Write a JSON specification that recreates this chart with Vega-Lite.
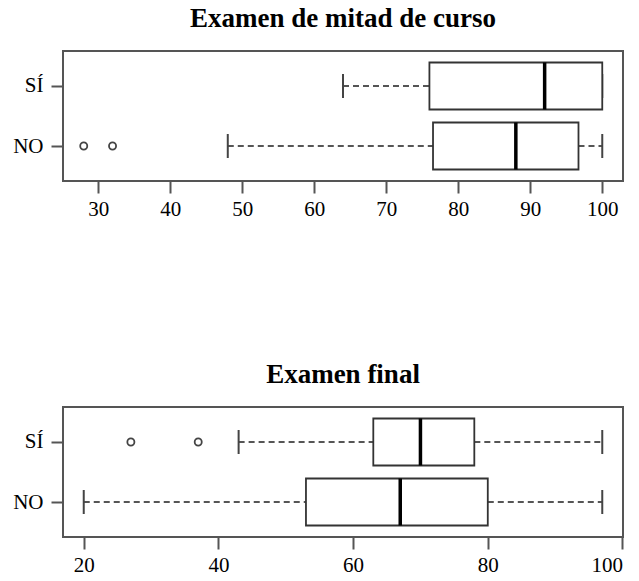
{
  "$schema": "https://vega.github.io/schema/vega-lite/v6.json",
  "padding": {"left": 11, "top": 4, "right": 10, "bottom": 5},
  "spacing": 140,
  "datasets": {
    "resumen": [
      {"examen": "mitad", "grupo": "SÍ", "inferior": 64, "q1": 76, "mediana": 92, "q3": 100, "superior": 100},
      {"examen": "mitad", "grupo": "NO", "inferior": 48, "q1": 76.5, "mediana": 88, "q3": 96.7, "superior": 100},
      {"examen": "final", "grupo": "SÍ", "inferior": 43, "q1": 63, "mediana": 70, "q3": 78, "superior": 97},
      {"examen": "final", "grupo": "NO", "inferior": 20, "q1": 53, "mediana": 67, "q3": 80, "superior": 97}
    ],
    "atipicos": [
      {"examen": "mitad", "grupo": "NO", "valor": 28},
      {"examen": "mitad", "grupo": "NO", "valor": 32},
      {"examen": "final", "grupo": "SÍ", "valor": 27},
      {"examen": "final", "grupo": "SÍ", "valor": 37}
    ]
  },
  "vconcat": [
    {
      "title": {"text": "Examen de mitad de curso"},
      "width": 560,
      "height": 130,
      "layer": [
        {
          "data": {"name": "resumen"},
          "transform": [{"filter": "datum.examen === 'mitad'"}],
          "mark": {"type": "rule", "strokeDash": [6, 4], "color": "#555", "strokeWidth": 2},
          "encoding": {
            "x": {"field": "inferior", "type": "quantitative", "scale": {"domain": [25.12, 102.88], "nice": false, "zero": false}, "axis": {"values": [30, 40, 50, 60, 70, 80, 90, 100], "title": null}},
            "x2": {"field": "q1"},
            "y": {"field": "grupo", "type": "nominal", "scale": {"type": "point", "padding": 0.583, "domain": ["SÍ", "NO"]}, "axis": {"title": null}}
          }
        },
        {
          "data": {"name": "resumen"},
          "transform": [{"filter": "datum.examen === 'mitad'"}],
          "mark": {"type": "rule", "strokeDash": [6, 4], "color": "#555", "strokeWidth": 2},
          "encoding": {
            "x": {"field": "q3", "type": "quantitative"},
            "x2": {"field": "superior"},
            "y": {"field": "grupo", "type": "nominal"}
          }
        },
        {
          "data": {"name": "resumen"},
          "transform": [{"filter": "datum.examen === 'mitad'"}],
          "mark": {"type": "tick", "color": "#444", "opacity": 1, "thickness": 2, "size": 24},
          "encoding": {
            "x": {"field": "inferior", "type": "quantitative"},
            "y": {"field": "grupo", "type": "nominal"}
          }
        },
        {
          "data": {"name": "resumen"},
          "transform": [{"filter": "datum.examen === 'mitad'"}],
          "mark": {"type": "tick", "color": "#444", "opacity": 1, "thickness": 2, "size": 24},
          "encoding": {
            "x": {"field": "superior", "type": "quantitative"},
            "y": {"field": "grupo", "type": "nominal"}
          }
        },
        {
          "data": {"name": "resumen"},
          "transform": [{"filter": "datum.examen === 'mitad'"}],
          "mark": {"type": "bar", "size": 47, "fill": "white", "stroke": "#333", "strokeWidth": 1.8, "opacity": 1},
          "encoding": {
            "x": {"field": "q1", "type": "quantitative"},
            "x2": {"field": "q3"},
            "y": {"field": "grupo", "type": "nominal"}
          }
        },
        {
          "data": {"name": "resumen"},
          "transform": [{"filter": "datum.examen === 'mitad'"}],
          "mark": {"type": "tick", "color": "black", "opacity": 1, "thickness": 3.5, "size": 47},
          "encoding": {
            "x": {"field": "mediana", "type": "quantitative"},
            "y": {"field": "grupo", "type": "nominal"}
          }
        },
        {
          "data": {"name": "atipicos"},
          "transform": [{"filter": "datum.examen === 'mitad'"}],
          "mark": {"type": "point", "shape": "circle", "filled": false, "size": 50, "stroke": "#444", "strokeWidth": 1.8, "opacity": 1},
          "encoding": {
            "x": {"field": "valor", "type": "quantitative"},
            "y": {"field": "grupo", "type": "nominal"}
          }
        }
      ]
    },
    {
      "title": {"text": "Examen final"},
      "width": 560,
      "height": 130,
      "layer": [
        {
          "data": {"name": "resumen"},
          "transform": [{"filter": "datum.examen === 'final'"}],
          "mark": {"type": "rule", "strokeDash": [6, 4], "color": "#555", "strokeWidth": 2},
          "encoding": {
            "x": {"field": "inferior", "type": "quantitative", "scale": {"domain": [16.92, 100.08], "nice": false, "zero": false}, "axis": {"values": [20, 40, 60, 80, 100], "title": null}},
            "x2": {"field": "q1"},
            "y": {"field": "grupo", "type": "nominal", "scale": {"type": "point", "padding": 0.583, "domain": ["SÍ", "NO"]}, "axis": {"title": null}}
          }
        },
        {
          "data": {"name": "resumen"},
          "transform": [{"filter": "datum.examen === 'final'"}],
          "mark": {"type": "rule", "strokeDash": [6, 4], "color": "#555", "strokeWidth": 2},
          "encoding": {
            "x": {"field": "q3", "type": "quantitative"},
            "x2": {"field": "superior"},
            "y": {"field": "grupo", "type": "nominal"}
          }
        },
        {
          "data": {"name": "resumen"},
          "transform": [{"filter": "datum.examen === 'final'"}],
          "mark": {"type": "tick", "color": "#444", "opacity": 1, "thickness": 2, "size": 24},
          "encoding": {
            "x": {"field": "inferior", "type": "quantitative"},
            "y": {"field": "grupo", "type": "nominal"}
          }
        },
        {
          "data": {"name": "resumen"},
          "transform": [{"filter": "datum.examen === 'final'"}],
          "mark": {"type": "tick", "color": "#444", "opacity": 1, "thickness": 2, "size": 24},
          "encoding": {
            "x": {"field": "superior", "type": "quantitative"},
            "y": {"field": "grupo", "type": "nominal"}
          }
        },
        {
          "data": {"name": "resumen"},
          "transform": [{"filter": "datum.examen === 'final'"}],
          "mark": {"type": "bar", "size": 47, "fill": "white", "stroke": "#333", "strokeWidth": 1.8, "opacity": 1},
          "encoding": {
            "x": {"field": "q1", "type": "quantitative"},
            "x2": {"field": "q3"},
            "y": {"field": "grupo", "type": "nominal"}
          }
        },
        {
          "data": {"name": "resumen"},
          "transform": [{"filter": "datum.examen === 'final'"}],
          "mark": {"type": "tick", "color": "black", "opacity": 1, "thickness": 3.5, "size": 47},
          "encoding": {
            "x": {"field": "mediana", "type": "quantitative"},
            "y": {"field": "grupo", "type": "nominal"}
          }
        },
        {
          "data": {"name": "atipicos"},
          "transform": [{"filter": "datum.examen === 'final'"}],
          "mark": {"type": "point", "shape": "circle", "filled": false, "size": 50, "stroke": "#444", "strokeWidth": 1.8, "opacity": 1},
          "encoding": {
            "x": {"field": "valor", "type": "quantitative"},
            "y": {"field": "grupo", "type": "nominal"}
          }
        }
      ]
    }
  ],
  "config": {
    "view": {"stroke": "#555", "strokeWidth": 2},
    "font": "Liberation Serif",
    "title": {"font": "Liberation Serif", "fontSize": 27, "fontWeight": "bold", "color": "black", "anchor": "middle", "offset": 18},
    "axis": {
      "domain": false,
      "grid": false,
      "ticks": true,
      "tickColor": "#555",
      "tickWidth": 2,
      "tickSize": 12,
      "labelFont": "Liberation Serif",
      "labelFontSize": 21,
      "labelColor": "black",
      "labelPadding": 5
    },
    "axisY": {"labelPadding": 8}
  }
}
